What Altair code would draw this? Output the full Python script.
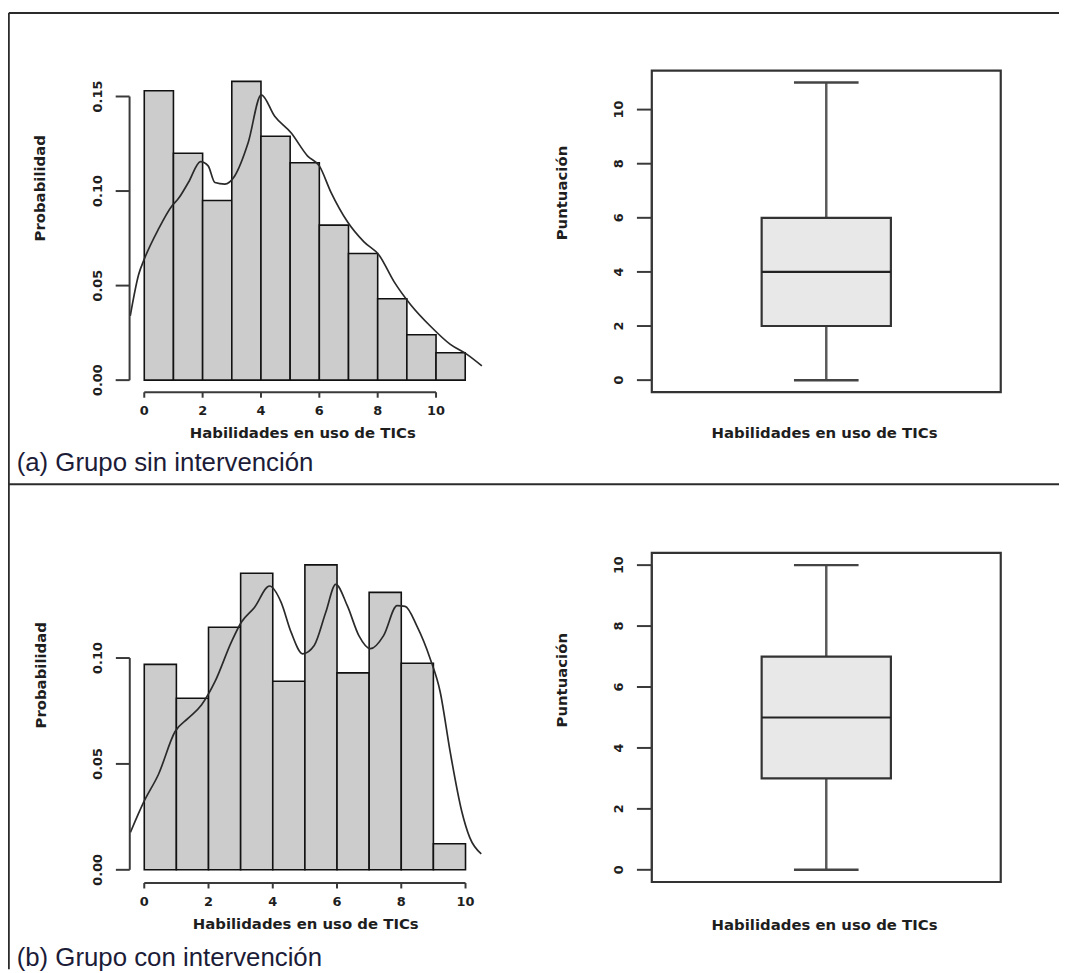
import altair as alt
import pandas as pd

# ---------------- data ----------------
breaks_a = [0, 1, 2, 3, 4, 5, 6, 7, 8, 9, 10, 11]
dens_a = [0.153, 0.120, 0.095, 0.158, 0.129, 0.115, 0.082, 0.067, 0.043, 0.024, 0.0145]
kde_x_a = [-0.48, -0.19, 0.0, 0.49, 0.94, 1.17, 1.51, 1.93, 2.19, 2.42, 2.76, 3.1, 3.56,
           4.01, 4.47, 5.03, 5.6, 6.0, 6.4, 6.97, 7.53, 8.05, 8.56, 9.13, 9.81, 10.49,
           11.06, 11.57]
kde_y_a = [0.034, 0.056, 0.064, 0.080, 0.092, 0.096, 0.1045, 0.1156, 0.1133, 0.1045,
           0.1037, 0.108, 0.1255, 0.1509, 0.1395, 0.1308, 0.1185, 0.1133, 0.0993, 0.0836,
           0.0731, 0.0661, 0.0521, 0.0399, 0.0285, 0.0189, 0.0136, 0.0075]

breaks_b = [0, 1, 2, 3, 4, 5, 6, 7, 8, 9, 10]
dens_b = [0.097, 0.081, 0.1145, 0.140, 0.089, 0.144, 0.093, 0.131, 0.0975, 0.0123]
kde_x_b = [-0.43, 0.0, 0.44, 0.96, 1.37, 1.78, 2.2, 2.71, 3.02, 3.43, 3.9, 4.26, 4.57,
           4.93, 5.29, 5.65, 5.96, 6.32, 6.68, 7.04, 7.45, 7.87, 8.12, 8.48, 8.9, 9.21,
           9.52, 9.88, 10.13, 10.49]
kde_y_b = [0.0177, 0.0325, 0.045, 0.0653, 0.0716, 0.0778, 0.0888, 0.1075, 0.1169, 0.1239,
           0.134, 0.1263, 0.1122, 0.102, 0.1059, 0.1216, 0.1348, 0.1247, 0.1106, 0.1044,
           0.1106, 0.1247, 0.1244, 0.1153, 0.0997, 0.0841, 0.0559, 0.0278, 0.0153, 0.0075]

box_stats = ["min", "q1", "median", "q3", "max"]
box_a = [0, 2, 4, 6, 11]
box_b = [0, 3, 5, 7, 10]

hist_x_ticks = [0, 2, 4, 6, 8, 10]
hist_a_y_ticks = [0.0, 0.05, 0.10, 0.15]
hist_b_y_ticks = [0.0, 0.05, 0.10]
box_y_ticks = [0, 2, 4, 6, 8, 10]

x_title = "Habilidades en uso de TICs"
hist_y_title = "Probabilidad"
box_y_title = "Puntuación"
captions = ["(a) Grupo sin intervención", "(b) Grupo con intervención"]

# ---------------- layout / style ----------------
W, H = 1059, 965
LINE = "#333333"
AX = "#3a3a3a"
TXT = "#1e1e1e"
TICK_FONT = "DejaVu Sans"
TICK_SIZE = 13
TITLE_SIZE = 15

one = pd.DataFrame({"k": [0]})


def text_at(label, x, y, angle=0, size=TITLE_SIZE, weight="bold", font=TICK_FONT,
            align="center", color=TXT):
    kw = dict(align=align, baseline="middle", fontSize=size, fontWeight=weight,
              font=font, color=color)
    if angle:
        kw["angle"] = angle
    return alt.Chart(pd.DataFrame({"t": [label]})).mark_text(**kw).encode(
        x=alt.value(x), y=alt.value(y), text="t:N")


def x_axis(xs, ticks, fmt, axis_y, tick_len, label_y):
    tdf = pd.DataFrame({"v": ticks, "lab": [fmt.format(t) for t in ticks]})
    dom = alt.Chart(one).mark_rule(color=AX, strokeWidth=2).encode(
        x=alt.X(datum=ticks[0], type="quantitative", scale=xs, axis=None),
        x2=alt.datum(ticks[-1]), y=alt.value(axis_y))
    tk = alt.Chart(tdf).mark_rule(color=AX, strokeWidth=2).encode(
        x=alt.X("v:Q", scale=xs, axis=None), y=alt.value(axis_y),
        y2=alt.value(axis_y + tick_len))
    lb = alt.Chart(tdf).mark_text(baseline="middle", align="center", fontSize=TICK_SIZE,
                                  fontWeight="bold", font=TICK_FONT, color=TXT).encode(
        x=alt.X("v:Q", scale=xs, axis=None), y=alt.value(label_y), text="lab:N")
    return [dom, tk, lb]


def y_axis(ys, ticks, fmt, axis_x, tick_len, label_x):
    tdf = pd.DataFrame({"v": ticks, "lab": [fmt.format(t) for t in ticks]})
    dom = alt.Chart(one).mark_rule(color=AX, strokeWidth=2).encode(
        y=alt.Y(datum=ticks[0], type="quantitative", scale=ys, axis=None),
        y2=alt.datum(ticks[-1]), x=alt.value(axis_x))
    tk = alt.Chart(tdf).mark_rule(color=AX, strokeWidth=2).encode(
        y=alt.Y("v:Q", scale=ys, axis=None), x=alt.value(axis_x - tick_len),
        x2=alt.value(axis_x))
    lb = alt.Chart(tdf).mark_text(baseline="middle", align="center", angle=270,
                                  fontSize=TICK_SIZE, fontWeight="bold", font=TICK_FONT,
                                  color=TXT).encode(
        y=alt.Y("v:Q", scale=ys, axis=None), x=alt.value(label_x), text="lab:N")
    return [dom, tk, lb]


def hist_panel(breaks, dens, kx, ky, ydomain, yticks, xr, yr, ax_y, ax_x,
               xt_pos, yt_pos):
    df = pd.DataFrame({"left": breaks[:-1], "right": breaks[1:], "dens": dens})
    kdf = pd.DataFrame({"x": kx, "y": ky})
    xs = alt.Scale(domain=[0, 10], range=xr, nice=False, zero=False)
    ys = alt.Scale(domain=ydomain, range=yr, nice=False, zero=False)
    bars = alt.Chart(df).mark_rect(fill="#cccccc", stroke="#111111", strokeWidth=1.6).encode(
        x=alt.X("left:Q", scale=xs, axis=None),
        x2="right:Q",
        y=alt.Y("dens:Q", scale=ys, axis=None),
        y2=alt.datum(0),
    )
    line = alt.Chart(kdf).mark_line(color="#2a2a2a", strokeWidth=1.7,
                                    interpolate="monotone").encode(
        x=alt.X("x:Q", scale=xs, axis=None),
        y=alt.Y("y:Q", scale=ys, axis=None),
    )
    parts = [bars, line]
    parts += x_axis(xs, hist_x_ticks, "{:d}", ax_y, 5.5, ax_y + 19)
    parts += y_axis(ys, yticks, "{:.2f}", ax_x, 14, ax_x - 32)
    parts.append(text_at(x_title, xt_pos[0], xt_pos[1]))
    parts.append(text_at(hist_y_title, yt_pos[0], yt_pos[1], angle=270))
    return alt.layer(*parts)


def box_panel(stats, yr, xt_y, yt_y):
    row = dict(zip(box_stats, stats))
    span = row["max"] - row["min"]
    row["flo"] = row["min"] - 0.04 * span
    row["fhi"] = row["max"] + 0.04 * span
    df = pd.DataFrame([row])
    xs = alt.Scale(domain=[0.46, 1.54], range=[648.7, 1000.3], nice=False, zero=False)
    ys = alt.Scale(domain=[0, 10], range=yr, nice=False, zero=False)
    frame = alt.Chart(df).mark_rect(fill=None, stroke=LINE, strokeWidth=2.2).encode(
        x=alt.X(datum=0.46, type="quantitative", scale=xs, axis=None),
        x2=alt.datum(1.54),
        y=alt.Y("flo:Q", scale=ys, axis=None),
        y2="fhi:Q",
    )
    whisk_lo = alt.Chart(df).mark_rule(color="#5a5a5a", strokeWidth=2.5).encode(
        x=alt.X(datum=1.0, type="quantitative", scale=xs, axis=None),
        y=alt.Y("min:Q", scale=ys, axis=None), y2="q1:Q")
    whisk_hi = alt.Chart(df).mark_rule(color="#5a5a5a", strokeWidth=2.5).encode(
        x=alt.X(datum=1.0, type="quantitative", scale=xs, axis=None),
        y=alt.Y("q3:Q", scale=ys, axis=None), y2="max:Q")
    cap_lo = alt.Chart(df).mark_rule(color="#444444", strokeWidth=2.5).encode(
        x=alt.X(datum=0.9, type="quantitative", scale=xs, axis=None), x2=alt.datum(1.1),
        y=alt.Y("min:Q", scale=ys, axis=None))
    cap_hi = alt.Chart(df).mark_rule(color="#444444", strokeWidth=2.5).encode(
        x=alt.X(datum=0.9, type="quantitative", scale=xs, axis=None), x2=alt.datum(1.1),
        y=alt.Y("max:Q", scale=ys, axis=None))
    box = alt.Chart(df).mark_rect(fill="#e8e8e8", stroke=LINE, strokeWidth=2.2).encode(
        x=alt.X(datum=0.8, type="quantitative", scale=xs, axis=None), x2=alt.datum(1.2),
        y=alt.Y("q1:Q", scale=ys, axis=None), y2="q3:Q")
    med = alt.Chart(df).mark_rule(color="#222222", strokeWidth=2.2).encode(
        x=alt.X(datum=0.8, type="quantitative", scale=xs, axis=None), x2=alt.datum(1.2),
        y=alt.Y("median:Q", scale=ys, axis=None))
    parts = [frame, whisk_lo, whisk_hi, cap_lo, cap_hi, box, med]
    parts += y_axis(ys, box_y_ticks, "{:d}", 648.7, 15, 615.3)
    parts.append(text_at(x_title, 822.8, xt_y))
    parts.append(text_at(box_y_title, 558.7, yt_y, angle=270))
    return alt.layer(*parts)


th = hist_panel(breaks_a, dens_a, kde_x_a, kde_y_a, [0, 0.15], hist_a_y_ticks,
                [137.3, 431.3], [371.3, 85.5], ax_y=383.5, ax_x=122.5,
                xt_pos=(297, 424.3), yt_pos=(32, 178))
bh = hist_panel(breaks_b, dens_b, kde_x_b, kde_y_b, [0, 0.10], hist_b_y_ticks,
                [137.3, 461.0], [864.7, 651.3], ax_y=878, ax_x=122.7,
                xt_pos=(300, 919.3), yt_pos=(33.7, 668.7))
tb = box_panel(box_a, [371.3, 98.7], xt_y=425, yt_y=182.8)
bb = box_panel(box_b, [864.7, 557.7], xt_y=920.3, yt_y=673.7)

frame_left = alt.Chart(one).mark_rule(color="#2b2b2b", strokeWidth=2).encode(
    x=alt.value(0.8), y=alt.value(1.3), y2=alt.value(H))
frame_top = alt.Chart(one).mark_rule(color="#2b2b2b", strokeWidth=2).encode(
    x=alt.value(0.8), x2=alt.value(W), y=alt.value(1.3))
frame_mid = alt.Chart(one).mark_rule(color="#2b2b2b", strokeWidth=2).encode(
    x=alt.value(0.8), x2=alt.value(W), y=alt.value(476.3))

cap_a = text_at(captions[0], 8.7, 455, size=26, weight="normal", font="Liberation Sans",
                align="left", color="#1c1c38")
cap_b = text_at(captions[1], 8.7, 954, size=26, weight="normal", font="Liberation Sans",
                align="left", color="#1c1c38")

chart = alt.layer(frame_left, frame_top, frame_mid, th, tb, bh, bb, cap_a, cap_b).resolve_scale(
    x="independent", y="independent"
).properties(
    width=W, height=H, autosize=alt.AutoSizeParams(type="none"), padding=0,
    background="white",
).configure_view(stroke=None)

chart.save("out.html", embed_options={"renderer": "svg", "actions": False})
